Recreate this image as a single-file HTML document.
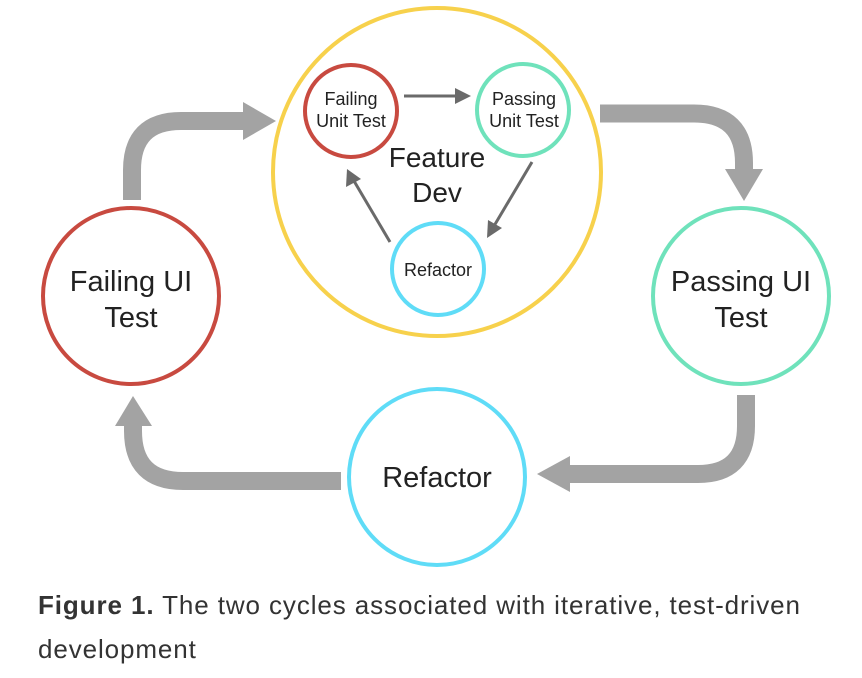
<!DOCTYPE html>
<html><head><meta charset="utf-8"><style>
html,body{margin:0;padding:0;background:#fff;width:862px;height:678px;overflow:hidden}
svg{position:absolute;left:0;top:0}
.cap{position:absolute;left:38px;top:583px;width:820px;font-family:"Liberation Sans",sans-serif;font-size:26px;line-height:44px;color:#333;white-space:nowrap;letter-spacing:0.9px}
</style></head><body>
<svg width="862" height="678" viewBox="0 0 862 678" font-family="Liberation Sans, sans-serif">
<g fill="none" stroke="#a3a3a3" stroke-width="18">
<path d="M132,200 L132,170 Q132,121 181,121 L246,121"/>
<path d="M600,113.5 L694,113.5 Q744,113.5 744,163 L744,172"/>
<path d="M746,395 L746,426 Q746,474 698,474 L568,474"/>
<path d="M341,481 L183,481 Q133,481 133,431 L133,424"/>
</g>
<g fill="#a3a3a3">
<polygon points="243,102 276,121 243,140"/>
<polygon points="725,169 763,169 744,201"/>
<polygon points="570,456 570,492 537,474"/>
<polygon points="115,426 152,426 133,396"/>
</g>
<circle cx="437" cy="172" r="164" fill="none" stroke="#f7d14c" stroke-width="4"/>
<circle cx="131" cy="296" r="88" fill="none" stroke="#c84a40" stroke-width="4"/>
<circle cx="741" cy="296" r="88" fill="none" stroke="#6fe2bb" stroke-width="4"/>
<circle cx="437" cy="477" r="88" fill="none" stroke="#5fdcf7" stroke-width="4"/>
<circle cx="351" cy="111" r="46" fill="none" stroke="#c84a40" stroke-width="4"/>
<circle cx="523" cy="110" r="46" fill="none" stroke="#6fe2bb" stroke-width="4"/>
<circle cx="438" cy="269" r="46" fill="none" stroke="#5fdcf7" stroke-width="4"/>
<g stroke="#6a6a6a" stroke-width="3" fill="none">
<line x1="404" y1="96" x2="458" y2="96"/>
<line x1="532" y1="162" x2="494" y2="226"/>
<line x1="390" y1="242" x2="354" y2="181"/>
</g>
<g fill="#6a6a6a">
<polygon points="471,96 455,88 455,104"/>
<polygon points="487,238 488,220 502,228"/>
<polygon points="347,169 346,187 361,179"/>
</g>
<g fill="#222" text-anchor="middle">
<text x="351" y="105" font-size="18">Failing</text>
<text x="351" y="127" font-size="18">Unit Test</text>
<text x="524" y="105" font-size="18">Passing</text>
<text x="524" y="127" font-size="18">Unit Test</text>
<text x="438" y="276" font-size="18">Refactor</text>
<text x="437" y="167" font-size="28">Feature</text>
<text x="437" y="202" font-size="28">Dev</text>
<text x="131" y="291" font-size="29">Failing UI</text>
<text x="131" y="327" font-size="29">Test</text>
<text x="741" y="291" font-size="29">Passing UI</text>
<text x="741" y="327" font-size="29">Test</text>
<text x="437" y="487" font-size="29">Refactor</text>
</g>
</svg>
<div class="cap"><b>Figure 1.</b> The two cycles associated with iterative, test-driven<br>development</div>
</body></html>
